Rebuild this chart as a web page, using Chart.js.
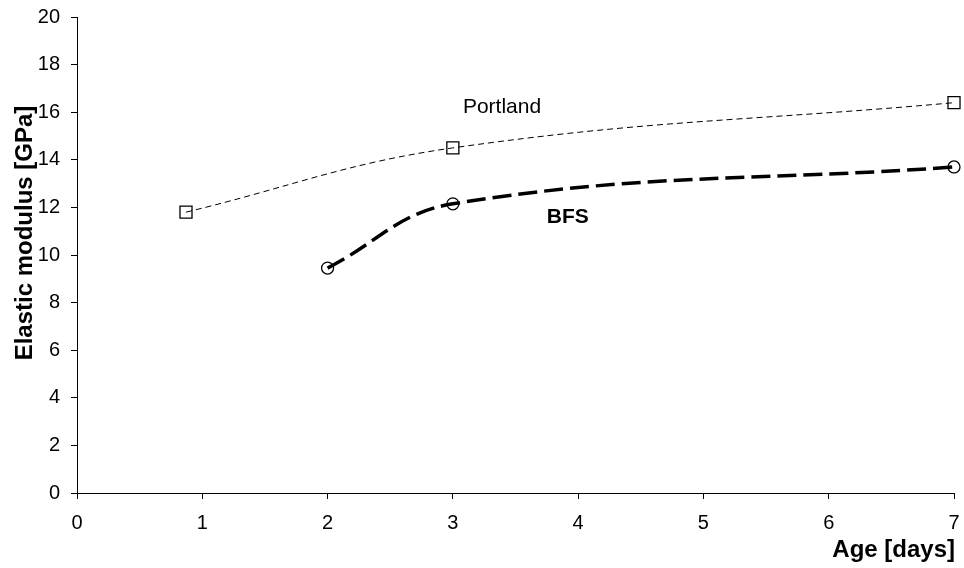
<!DOCTYPE html>
<html>
<head>
<meta charset="utf-8">
<script src="https://cdn.jsdelivr.net/npm/chart.js@4/dist/chart.umd.min.js"></script>
<style>
  html, body { margin: 0; padding: 0; background: #fff; }
  #wrap { width: 964px; height: 568px; }
</style>
</head>
<body>
<div id="wrap"><canvas id="c" width="964" height="568"></canvas></div>
<script>
// Age of the specimens [days]
const portlandAge = [0.87, 3, 7];
const bfsAge = [2, 3, 7];
// Elastic modulus [GPa]
const portlandModulus = [11.8, 14.5, 16.4];
const bfsModulus = [9.45, 12.15, 13.7];

const xTicks = [0, 1, 2, 3, 4, 5, 6, 7];
const yTicks = [0, 2, 4, 6, 8, 10, 12, 14, 16, 18, 20];

// In-plot series labels: [text, age, modulus]
const seriesLabels = [
  ['Portland', 3.08, 16.2],
  ['BFS', 3.75, 11.6]
];

const FONT = '"Liberation Sans", Arial, sans-serif';

const toPoints = (xs, ys) => xs.map((x, i) => ({ x: x, y: ys[i] }));

// keep the plot area fixed: no extra room for the outermost tick labels
const noPadding = s => { s.paddingTop = 0; s.paddingBottom = 0; s.paddingLeft = 0; s.paddingRight = 0; };

const annotate = {
  id: 'annotate',
  afterDraw(chart) {
    const ctx = chart.ctx;
    const xs = chart.scales.x, ys = chart.scales.y;
    ctx.save();
    ctx.fillStyle = '#000';
    ctx.textBaseline = 'middle';
    ctx.textAlign = 'left';
    seriesLabels.forEach(([txt, ax, ay], i) => {
      ctx.font = (i === 1 ? 'bold ' : '') + '21px ' + FONT;
      ctx.fillText(txt, xs.getPixelForValue(ax), ys.getPixelForValue(ay));
    });
    // axis titles
    ctx.font = 'bold 24px ' + FONT;
    ctx.textAlign = 'right';
    ctx.fillText('Age [days]', chart.chartArea.right + 1, 550);
    ctx.translate(25, 233);
    ctx.rotate(-Math.PI / 2);
    ctx.textAlign = 'center';
    ctx.fillText('Elastic modulus [GPa]', 0, 0);
    ctx.restore();
  }
};

new Chart(document.getElementById('c'), {
  type: 'line',
  data: {
    datasets: [
      {
        label: 'Portland',
        data: toPoints(portlandAge, portlandModulus),
        borderColor: '#000',
        borderWidth: 1,
        borderDash: [6, 4],
        tension: 0.4,
        pointStyle: 'rect',
        pointRadius: 8.5,
        pointBorderWidth: 1.3,
        pointBorderColor: '#000',
        pointBackgroundColor: 'rgba(0,0,0,0)',
        clip: false
      },
      {
        label: 'BFS',
        data: toPoints(bfsAge, bfsModulus),
        borderColor: '#000',
        borderWidth: 3.5,
        borderDash: [19, 7],
        tension: 0.4,
        pointStyle: 'circle',
        pointRadius: 6,
        pointBorderWidth: 1.3,
        pointBorderColor: '#000',
        pointBackgroundColor: 'rgba(0,0,0,0)',
        clip: false
      }
    ]
  },
  options: {
    responsive: false,
    animation: false,
    events: [],
    layout: { padding: { top: 17, right: 10, left: 0, bottom: 0 } },
    plugins: { legend: { display: false }, tooltip: { enabled: false } },
    scales: {
      x: {
        type: 'linear',
        min: 0, max: 7,
        afterFit(s) { s.height = 75; noPadding(s); },
        afterBuildTicks(s) { s.ticks = xTicks.map(v => ({ value: v })); },
        border: { color: '#000', width: 1 },
        grid: { drawOnChartArea: false, drawTicks: true, tickLength: 6, tickColor: '#000' },
        ticks: { color: '#000', font: { family: FONT, size: 20 }, padding: 12, maxRotation: 0 }
      },
      y: {
        type: 'linear',
        min: 0, max: 20,
        afterFit(s) { s.width = 77; noPadding(s); },
        afterBuildTicks(s) { s.ticks = yTicks.map(v => ({ value: v })); },
        border: { color: '#000', width: 1 },
        grid: { drawOnChartArea: false, drawTicks: true, tickLength: 6, tickColor: '#000' },
        ticks: { color: '#000', font: { family: FONT, size: 20 }, padding: 11 }
      }
    }
  },
  plugins: [annotate]
});
</script>
</body>
</html>
